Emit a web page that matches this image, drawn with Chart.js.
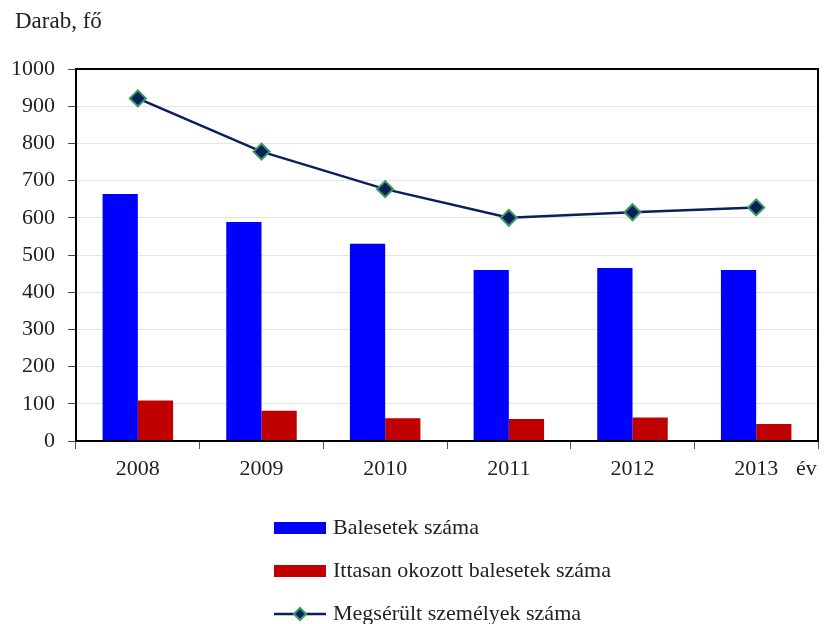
<!DOCTYPE html>
<html>
<head>
<meta charset="utf-8">
<script src="https://cdn.jsdelivr.net/npm/chart.js@4"></script>
<style>
  html, body { margin: 0; padding: 0; background: #fff; }
  #accChart { display: block; }
</style>
</head>
<body>
<canvas id="accChart" width="838" height="624"></canvas>
<script>
var years = ["2008", "2009", "2010", "2011", "2012", "2013"];
var accidents = [664, 589, 530, 460, 465, 460];
var drunkAccidents = [109, 81, 61, 59, 63, 46];
var injured = [921, 778, 677, 600, 615, 628];
var yTicks = [0, 100, 200, 300, 400, 500, 600, 700, 800, 900, 1000];

var serif = "'Liberation Serif', 'DejaVu Serif', serif";
var textColor = "#222";

// frame, axis titles and the stacked legend under the plot
var chartDecor = {
  id: "chartDecor",
  afterDraw: function (chart) {
    var ctx = chart.ctx;
    var a = chart.chartArea;
    ctx.save();
    ctx.strokeStyle = "#000";
    ctx.lineWidth = 2;
    ctx.strokeRect(a.left, a.top, a.right - a.left, a.bottom - a.top);

    ctx.fillStyle = textColor;
    ctx.textBaseline = "middle";
    ctx.textAlign = "left";
    ctx.font = "23px " + serif;
    ctx.fillText("Darab, fő", 15, 22);
    ctx.font = "22px " + serif;
    ctx.fillText("év", 796, 469);

    var items = chart.data.datasets;
    var order = [0, 1, 2];
    order.forEach(function (di, i) {
      var ds = items[di];
      var y = 528 + i * 43;
      var x0 = 274, x1 = 326;
      if (ds.type === "line") {
        ctx.strokeStyle = ds.borderColor;
        ctx.lineWidth = 2.5;
        ctx.beginPath();
        ctx.moveTo(x0, y);
        ctx.lineTo(x1, y);
        ctx.stroke();
        var cx = (x0 + x1) / 2, r = 6;
        ctx.beginPath();
        ctx.moveTo(cx, y - r);
        ctx.lineTo(cx + r, y);
        ctx.lineTo(cx, y + r);
        ctx.lineTo(cx - r, y);
        ctx.closePath();
        ctx.fillStyle = ds.pointBackgroundColor;
        ctx.fill();
        ctx.strokeStyle = ds.pointBorderColor;
        ctx.lineWidth = 2;
        ctx.stroke();
      } else {
        ctx.fillStyle = ds.backgroundColor;
        ctx.fillRect(x0, y - 6, x1 - x0, 12);
      }
      ctx.fillStyle = textColor;
      ctx.fillText(ds.label, 333, y);
    });
    ctx.restore();
  }
};

new Chart(document.getElementById("accChart"), {
  type: "bar",
  data: {
    labels: years,
    datasets: [
      {
        label: "Balesetek száma",
        data: accidents,
        backgroundColor: "#0000ff",
        order: 2,
        categoryPercentage: 0.57,
        barPercentage: 1.0
      },
      {
        label: "Ittasan okozott balesetek száma",
        data: drunkAccidents,
        backgroundColor: "#c00000",
        order: 2,
        categoryPercentage: 0.57,
        barPercentage: 1.0
      },
      {
        type: "line",
        label: "Megsérült személyek száma",
        data: injured,
        borderColor: "#0a1f5c",
        borderWidth: 2.5,
        pointStyle: "rectRot",
        pointRadius: 8,
        pointBackgroundColor: "#0a1f5c",
        pointBorderColor: "#3a9a60",
        pointBorderWidth: 2,
        tension: 0,
        order: 0
      }
    ]
  },
  options: {
    responsive: false,
    animation: false,
    layout: { padding: { top: 69, right: 20, left: 0, bottom: 143 } },
    plugins: {
      legend: { display: false },
      tooltip: { enabled: false }
    },
    scales: {
      x: {
        offset: true,
        border: { color: "#000", width: 2 },
        grid: { offset: true, drawOnChartArea: false, tickLength: 8, tickColor: "#555" },
        ticks: { color: textColor, font: { family: serif, size: 22 }, padding: 7 },
        afterFit: function (scale) { scale.height = 40; }
      },
      y: {
        min: 0,
        max: 1000,
        afterBuildTicks: function (scale) {
          scale.ticks = yTicks.map(function (v) { return { value: v }; });
        },
        border: { color: "#000", width: 2 },
        grid: { color: "#e4e4e4", tickLength: 8, tickColor: "#444" },
        ticks: {
          color: textColor,
          font: { family: serif, size: 22 },
          padding: 13,
          callback: function (v) { return String(v); }
        },
        afterFit: function (scale) { scale.width = 76; }
      }
    }
  },
  plugins: [chartDecor]
});
</script>
</body>
</html>
